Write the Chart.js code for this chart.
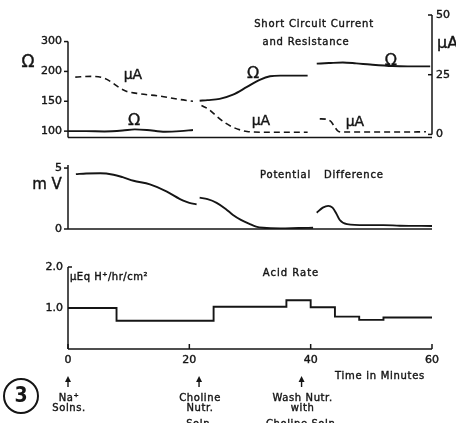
<!DOCTYPE html>
<html>
<head>
<meta charset="utf-8">
<script src="https://cdn.jsdelivr.net/npm/chart.js@4.4.1/dist/chart.umd.min.js"></script>
<style>
  body { margin: 0; background: #fff; width: 456px; height: 423px; position: relative; overflow: hidden; }
  canvas { position: absolute; left: 0; }
</style>
</head>
<body>
<canvas id="scc" width="456" height="150" style="top:0px"></canvas>
<canvas id="pd" width="456" height="95" style="top:150px"></canvas>
<canvas id="acid" width="456" height="178" style="top:245px"></canvas>
<script>
// time axis (minutes)
const timeTicks = [0, 20, 40, 60];

// short circuit current / resistance panel
const ohmTicks = [100, 150, 200, 300];
const uaTicks = [0, 25, 50];
const ohmSeg1 = [[0, 100], [3, 100], [6, 99.5], [9, 101], [11, 103], [13, 102], [16, 99], [18.5, 100], [20.6, 102]];
const ohmSeg2 = [[21.7, 151], [23, 152], [25, 154], [27.2, 161], [29.5, 174], [31.6, 186], [33.3, 192], [35, 193], [39.5, 193]];
const ohmSeg3 = [[41, 226], [43, 228], [45.3, 230], [47.5, 227], [49.8, 223], [53.5, 218], [56, 217], [59.7, 217]];
const uaSeg1 = [[1.2, 24.0], [4, 24.3], [6, 23.5], [7.4, 21.5], [8.5, 19.5], [9.7, 18], [11.9, 17], [15.2, 16], [18.5, 14.6], [20.6, 13.9]];
const uaSeg2 = [[22, 12.1], [23.2, 10.5], [24.5, 7.6], [25.8, 5], [27.2, 3.0], [28.5, 1.8], [29.5, 1.2], [33, 0.9], [39.5, 0.9]];
const uaSeg3 = [[41.5, 6.5], [42.5, 6.4], [43.3, 5.5], [44, 3.0], [44.6, 1.2], [45.5, 1.0], [50, 1.0], [55, 1.0], [59, 1.1]];
const sccLabels = [
  { text: 'μA', t: 10.7, ua: 24.6, size: 14 },
  { text: 'Ω', t: 10.9, ua: 5.8, size: 16 },
  { text: 'Ω', t: 30.5, ua: 25.4, size: 16 },
  { text: 'μA', t: 31.8, ua: 5.4, size: 14 },
  { text: 'μA', t: 47.3, ua: 5.0, size: 14 },
  { text: 'Ω', t: 53.2, ua: 30.8, size: 16 }
];

// potential difference panel (mV)
const mvTicks = [0, 5];
const pdSeg1 = [[1.3, 4.5], [3, 4.55], [5.3, 4.57], [7.5, 4.45], [9, 4.25], [10.8, 3.96], [13.5, 3.66], [16.3, 3.06], [19, 2.32], [20, 2.15], [21.2, 2.02]];
const pdSeg2 = [[21.7, 2.57], [23, 2.45], [24.5, 2.15], [26, 1.65], [27.2, 1.15], [28.5, 0.75], [30, 0.4], [31, 0.2], [32.2, 0.1], [35, 0.05], [38, 0.08], [40.4, 0.1]];
const pdSeg3 = [[41, 1.34], [42, 1.75], [42.9, 1.9], [43.6, 1.75], [44.2, 1.3], [44.8, 0.74], [46, 0.4], [49, 0.32], [52, 0.32], [54.7, 0.27], [60, 0.25]];

// acid rate panel (uEq H+/hr/cm2), value holds from each time to the next
const acidTicks = [1.0, 2.0];
const acidSteps = [[0, 1.0], [8, 0.69], [24, 1.03], [36, 1.19], [40, 1.02], [44, 0.79], [48, 0.71], [52, 0.77], [60, 0.77]];

// solution changes marked under the time axis
const events = [
  { t: 0, lines: ['Na⁺', 'Solns.'] },
  { t: 21.6, lines: ['Choline', 'Nutr.', 'Soln.'] },
  { t: 38.5, lines: ['Wash Nutr.', 'with', 'Choline Soln.'] }
];

const INK = '#151515';
const FONT = '"DejaVu Sans"';
const tickFont = { family: 'DejaVu Sans', size: 11 };
const tickStyle = { color: INK, font: tickFont, textStrokeColor: INK, textStrokeWidth: 0.4 };

// the ohm axis is drawn with evenly spaced ticks 100,150,200,300
function ohmToAxis(v) {
  const n = ohmTicks.length;
  if (v <= ohmTicks[1]) return (v - ohmTicks[0]) / (ohmTicks[1] - ohmTicks[0]);
  for (let i = 1; i < n - 1; i++) {
    if (v <= ohmTicks[i + 1]) return i + (v - ohmTicks[i]) / (ohmTicks[i + 1] - ohmTicks[i]);
  }
  return n - 1 + (v - ohmTicks[n - 1]) / (ohmTicks[n - 1] - ohmTicks[n - 2]);
}

const toPts = (arr, f = v => v) => arr.map(([x, y]) => ({ x, y: f(y) }));

function line(ctx, x1, y1, x2, y2) {
  ctx.beginPath(); ctx.moveTo(x1, y1); ctx.lineTo(x2, y2); ctx.stroke();
}
// hand lettering is a bit heavier than the plain font, so stroke it lightly too
function txt(ctx, s, x, y, size, align = 'center', spacing = 0.8) {
  ctx.save();
  ctx.font = size + 'px ' + FONT;
  ctx.letterSpacing = spacing + 'px';
  ctx.textAlign = align;
  ctx.textBaseline = 'middle';
  ctx.lineWidth = 0.4;
  ctx.fillText(s, x, y);
  ctx.strokeText(s, x, y);
  ctx.restore();
}

function curve(seg, axis, f, dashed) {
  return {
    data: toPts(seg, f),
    yAxisID: axis,
    borderColor: INK,
    borderWidth: dashed ? 1.6 : 1.9,
    borderDash: dashed ? [6, 4] : [],
    pointRadius: 0,
    cubicInterpolationMode: 'monotone',
    fill: false
  };
}

const base = {
  responsive: false,
  animation: false,
  events: [],
  plugins: { legend: { display: false }, tooltip: { enabled: false } }
};
const xHidden = { type: 'linear', min: 0, max: 60, display: false };

// top panel
new Chart(document.getElementById('scc'), {
  type: 'line',
  data: {
    datasets: [
      curve(ohmSeg1, 'yOhm', ohmToAxis),
      curve(ohmSeg2, 'yOhm', ohmToAxis),
      curve(ohmSeg3, 'yOhm', ohmToAxis),
      curve(uaSeg1, 'yUA', undefined, true),
      curve(uaSeg2, 'yUA', undefined, true),
      curve(uaSeg3, 'yUA', undefined, true)
    ]
  },
  options: {
    ...base,
    layout: { padding: { top: 15, bottom: 12, left: 0, right: 0 } },
    scales: {
      x: xHidden,
      yOhm: {
        position: 'left', min: -0.21, max: 3.89,
        afterBuildTicks: s => { s.ticks = ohmTicks.map((v, i) => ({ value: i })); },
        afterFit: s => { s.width = 68; },
        grid: { display: false, drawTicks: false }, border: { display: false },
        ticks: { ...tickStyle, padding: 6, callback: v => ohmTicks[v] }
      },
      yUA: {
        position: 'right', min: -1.25, max: 50,
        afterBuildTicks: s => { s.ticks = uaTicks.map(v => ({ value: v })); },
        afterFit: s => { s.width = 24; },
        grid: { display: false, drawTicks: false }, border: { display: false },
        ticks: { ...tickStyle, padding: 4 }
      }
    }
  },
  plugins: [{
    id: 'sccFrame',
    afterDraw(chart) {
      const { ctx, chartArea: a, scales: { x, yOhm, yUA } } = chart;
      ctx.save();
      ctx.strokeStyle = INK; ctx.fillStyle = INK; ctx.lineWidth = 1.5;
      line(ctx, a.left, yOhm.getPixelForValue(ohmTicks.length - 1), a.left, a.bottom);
      line(ctx, a.left, a.bottom, a.right, a.bottom);
      line(ctx, a.right, yUA.getPixelForValue(uaTicks[uaTicks.length - 1]), a.right, yUA.getPixelForValue(0));
      ohmTicks.forEach((v, i) => { const y = yOhm.getPixelForValue(i); line(ctx, a.left - 4, y, a.left, y); });
      uaTicks.forEach(v => { const y = yUA.getPixelForValue(v); line(ctx, a.right - 4, y, a.right, y); });
      sccLabels.forEach(l => txt(ctx, l.text, x.getPixelForValue(l.t), yUA.getPixelForValue(l.ua), l.size, 'center', 0));
      txt(ctx, 'Ω', 28, 63, 17, 'center', 0);
      txt(ctx, 'μA', a.right + 5, 44, 16, 'left', 0);
      txt(ctx, 'Short Circuit Current', 314, 24, 10);
      txt(ctx, 'and Resistance', 306, 42, 10);
      ctx.restore();
    }
  }]
});

// middle panel
new Chart(document.getElementById('pd'), {
  type: 'line',
  data: {
    datasets: [curve(pdSeg1, 'y'), curve(pdSeg2, 'y'), curve(pdSeg3, 'y')]
  },
  options: {
    ...base,
    layout: { padding: { top: 15, bottom: 16, left: 0, right: 24 } },
    scales: {
      x: xHidden,
      y: {
        position: 'left', min: 0, max: 5.25,
        afterBuildTicks: s => { s.ticks = mvTicks.map(v => ({ value: v })); },
        afterFit: s => { s.width = 68; },
        grid: { display: false, drawTicks: false }, border: { display: false },
        ticks: { ...tickStyle, padding: 6 }
      }
    }
  },
  plugins: [{
    id: 'pdFrame',
    afterDraw(chart) {
      const { ctx, chartArea: a, scales: { y } } = chart;
      ctx.save();
      ctx.strokeStyle = INK; ctx.fillStyle = INK; ctx.lineWidth = 1.5;
      line(ctx, a.left, a.top, a.left, a.bottom);
      line(ctx, a.left, a.bottom, a.right, a.bottom);
      mvTicks.forEach(v => { const yy = y.getPixelForValue(v); line(ctx, a.left - 4, yy, a.left, yy); });
      txt(ctx, 'm V', 47, a.top + 20, 15, 'center', 0);
      txt(ctx, 'Potential', 260, a.top + 10, 10, 'left');
      txt(ctx, 'Difference', 324, a.top + 10, 10, 'left');
      ctx.restore();
    }
  }]
});

// bottom panel
new Chart(document.getElementById('acid'), {
  type: 'line',
  data: {
    datasets: [{
      data: toPts(acidSteps),
      borderColor: INK,
      borderWidth: 1.9,
      stepped: 'before',
      pointRadius: 0,
      fill: false
    }]
  },
  options: {
    ...base,
    layout: { padding: { top: 22, bottom: 0, left: 0, right: 24 } },
    scales: {
      x: {
        type: 'linear', min: 0, max: 60,
        afterBuildTicks: s => { s.ticks = timeTicks.map(v => ({ value: v })); },
        afterFit: s => { s.height = 74; },
        grid: { display: false, drawTicks: false }, border: { display: false },
        ticks: { ...tickStyle, padding: 5, maxRotation: 0 }
      },
      y: {
        position: 'left', min: 0, max: 2,
        afterBuildTicks: s => { s.ticks = acidTicks.map(v => ({ value: v })); },
        afterFit: s => { s.width = 68; },
        grid: { display: false, drawTicks: false }, border: { display: false },
        ticks: { ...tickStyle, padding: 5, callback: v => v.toFixed(1) }
      }
    }
  },
  plugins: [{
    id: 'acidFrame',
    afterDraw(chart) {
      const { ctx, chartArea: a, scales: { x, y } } = chart;
      ctx.save();
      ctx.strokeStyle = INK; ctx.fillStyle = INK; ctx.lineWidth = 1.5;
      line(ctx, a.left, a.top, a.left, a.bottom);
      line(ctx, a.left, a.bottom, a.right, a.bottom);
      timeTicks.forEach(v => { const xx = x.getPixelForValue(v); line(ctx, xx, a.bottom, xx, a.bottom - 5); });
      acidTicks.forEach(v => { const yy = y.getPixelForValue(v); line(ctx, a.left, yy, a.left + 4, yy); });
      txt(ctx, 'μEq H⁺/hr/cm²', a.left + 2, a.top + 10, 10, 'left', 0.5);
      txt(ctx, 'Acid Rate', 291, a.top + 6, 10, 'center', 1);
      txt(ctx, 'Time in Minutes', 380, a.bottom + 27, 10, 'center', 0.7);
      // arrows and notes for the solution changes
      ctx.lineWidth = 1.4;
      const lineY = [49, 59, 75];
      events.forEach(ev => {
        const xx = x.getPixelForValue(ev.t);
        line(ctx, xx, a.bottom + 38, xx, a.bottom + 30);
        ctx.beginPath();
        ctx.moveTo(xx, a.bottom + 27); ctx.lineTo(xx - 3, a.bottom + 33); ctx.lineTo(xx + 3, a.bottom + 33);
        ctx.closePath(); ctx.fill();
        ev.lines.forEach((s, i) => txt(ctx, s, xx + 1, a.bottom + lineY[i], 10, 'center', 0.6));
      });
      // figure number
      ctx.lineWidth = 2;
      ctx.beginPath(); ctx.arc(21, a.bottom + 47, 17, 0, Math.PI * 2); ctx.stroke();
      ctx.font = 'bold 21px "DejaVu Sans Condensed", "DejaVu Sans"';
      ctx.letterSpacing = '0px';
      ctx.textAlign = 'center'; ctx.textBaseline = 'middle';
      ctx.fillText('3', 21, a.bottom + 48);
      ctx.restore();
    }
  }]
});
</script>
</body>
</html>
